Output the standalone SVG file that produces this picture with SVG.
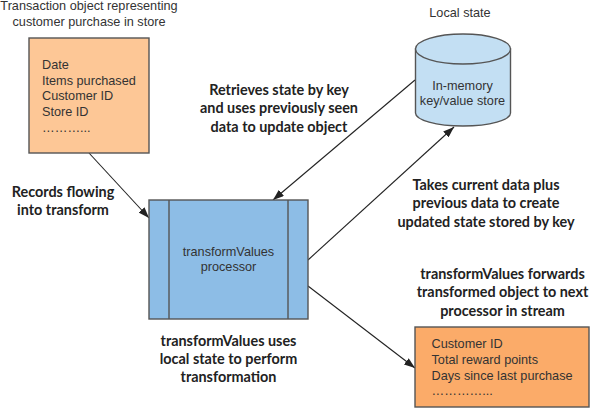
<svg xmlns="http://www.w3.org/2000/svg" width="590" height="408" viewBox="0 0 590 408">
<style>
text{font-family:"Liberation Sans",Arial,sans-serif;font-size:12.7px;fill:#333;}
text.b{font-family:Lato,"Open Sans",sans-serif;font-size:14.4px;font-weight:700;fill:#222;text-anchor:middle;}
text.c{text-anchor:middle;}
.box{stroke:#555;stroke-width:1.4;}
.ln{fill:none;stroke:#222;stroke-width:1.1;}
</style>
<defs><marker id="a" viewBox="0 0 11 8" refX="11" refY="4" markerWidth="11" markerHeight="8" markerUnits="userSpaceOnUse" orient="auto"><path d="M0 0L11 4L0 8z" fill="#222"/></marker></defs>
<rect width="590" height="408" fill="#fff"/>
<g id="connectors">
<path class="ln" marker-end="url(#a)" d="M89 153L149 218"/>
<path class="ln" marker-end="url(#a)" d="M415 80L273 200"/>
<path class="ln" marker-end="url(#a)" d="M308 260L454 127"/>
<path class="ln" marker-end="url(#a)" d="M308 286L415 368"/>
</g>
<g id="transaction-label">
<text class="c" x="89" y="10">Transaction object representing</text>
<text class="c" x="89" y="25.500">customer purchase in store</text>
</g>
<g id="transaction">
<rect class="box" x="29" y="38" width="120" height="115" fill="#fdc796"/>
<text x="42" y="68.500">Date</text>
<text x="42" y="84.500">Items purchased</text>
<text x="42" y="100">Customer ID</text>
<text x="42" y="115.500">Store ID</text>
<text x="42" y="131.500">………...</text>
</g>
<g id="local-state-label"><text class="c" x="460" y="16.500">Local state</text></g>
<g id="store">
<path class="box" fill="#c3dff3" d="M415.500 49V113C415.500 120 436 126 463 126S510.500 120 510.500 113V49Z"/>
<ellipse class="box" cx="463" cy="49" rx="47.500" ry="15" fill="#c3dff3"/>
<text class="c" x="462.500" y="89.500">In-memory</text>
<text class="c" x="462.500" y="105">key/value store</text>
</g>
<g id="processor">
<rect class="box" x="149" y="200" width="159" height="119" fill="#8dbde6"/>
<path class="box" fill="none" d="M169 200V319M288 200V319"/>
<text class="c" x="228.500" y="255.500">transformValues</text>
<text class="c" x="228.500" y="271">processor</text>
</g>
<g id="output">
<rect class="box" x="415" y="327" width="174" height="80" fill="#fbab69"/>
<text x="431.500" y="348">Customer ID</text>
<text x="431.500" y="364">Total reward points</text>
<text x="431.500" y="379.500">Days since last purchase</text>
<text x="431.500" y="395">…………...</text>
</g>
<g id="labels">
<text class="b" x="63" y="197">Records flowing</text>
<text class="b" x="63" y="215">into transform</text>
<text class="b" x="279" y="95">Retrieves state by key</text>
<text class="b" x="279" y="113">and uses previously seen</text>
<text class="b" x="279" y="131.500">data to update object</text>
<text class="b" x="486" y="190">Takes current data plus</text>
<text class="b" x="486" y="208">previous data to create</text>
<text class="b" x="486" y="227">updated state stored by key</text>
<text class="b" x="228.500" y="346">transformValues uses</text>
<text class="b" x="228.500" y="364">local state to perform</text>
<text class="b" x="228.500" y="382">transformation</text>
<text class="b" x="502.500" y="279">transformValues forwards</text>
<text class="b" x="502.500" y="297">transformed object to next</text>
<text class="b" x="502.500" y="316">processor in stream</text>
</g>
</svg>
